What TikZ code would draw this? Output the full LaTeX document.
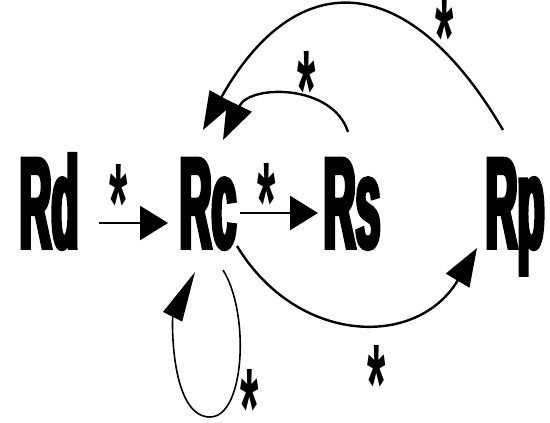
\documentclass[tikz,border=0pt]{standalone}
\usepackage{fontspec}
\usepackage{tikz}
\usetikzlibrary{arrows.meta}
\newfontfamily\labelfont[FakeStretch=0.34,FakeBold=3]{Liberation Sans Bold}
\newfontfamily\starfont[FakeStretch=0.42]{Liberation Sans Bold}
\newcommand{\rstar}{\raisebox{-34pt}{*}}
\begin{document}
\begin{tikzpicture}[x=1pt, y=1pt]

\tikzset{species/.style = {font=\labelfont\fontsize{130}{130}\selectfont, inner sep=0pt, anchor=base}}
\tikzset{star/.style = {font=\starfont\fontsize{112}{112}\selectfont, inner sep=0pt, text height=35pt, text depth=0pt}}
\tikzset{edge/.style = {-{Triangle[length=28pt,width=34pt]}, line width=2.6pt}}
\tikzset{arcedge/.style = {-{Triangle[length=38pt,width=27pt]}, line width=2.4pt}}
\tikzset{loopedge/.style = {-{Triangle[length=50pt,width=21pt]}, line width=1.6pt}}
\useasboundingbox (0,0) rectangle (550,423);
% species
\node[species] (rd) at (49,175)  {Rd};
\node[species] (rc) at (208,175) {Rc};
\node[species] (rs) at (352,175) {Rs};
\node[species] (rp) at (515,175) {Rp};
% reactions
\draw[edge] ([shift={(50,25)}]rd.base) -- ([shift={(-40,25)}]rc.base);
\draw[edge] ([shift={(32,35)}]rc.base) -- ([shift={(-34,35)}]rs.base);
\draw[arcedge] ([shift={(-12,118)}]rp.base) .. controls +(-96,164) and +(92,164) .. ([shift={(-5,118)}]rc.base);
\draw[arcedge] ([shift={(-4,116)}]rs.base) .. controls +(-15,48) and +(27,56) .. ([shift={(15,108)}]rc.base);
\draw[arcedge] ([shift={(29,2)}]rc.base) .. controls +(60,-99) and +(-60,-101) .. ([shift={(-38,0)}]rp.base);
\draw[loopedge] ([shift={(15,-22)}]rc.base) .. controls +(27,-43) and +(35,0) .. ([shift={(2,-169)}]rc.base)
  .. controls +(-40,0) and +(-23,-46) .. ([shift={(-13,-24)}]rc.base);
% stars
\node[star] (s1) at (119,233) {\rstar};
\node[star] (s2) at (267,234) {\rstar};
\node[star] (s3) at (445,399) {\rstar};
\node[star] (s4) at (307,346) {\rstar};
\node[star] (s5) at (250,28)  {\rstar};
\node[star] (s6) at (377,52)  {\rstar};
\end{tikzpicture}
\end{document}
